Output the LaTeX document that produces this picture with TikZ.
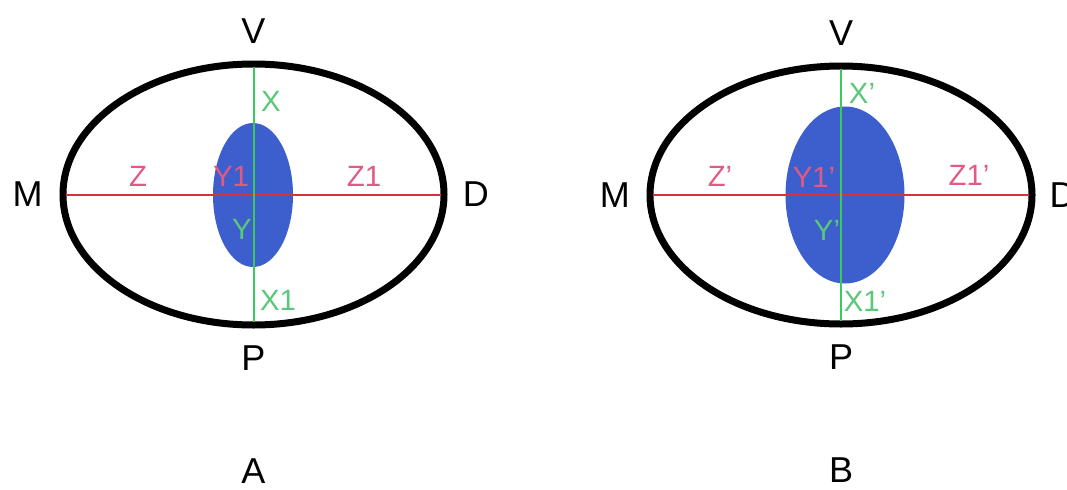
\documentclass[tikz,border=0pt]{standalone}
\usepackage{fontspec}
\setmainfont{Liberation Sans}
\usetikzlibrary{positioning,shapes.geometric}

\definecolor{lensblue}{RGB}{60,95,205}
\definecolor{axisred}{RGB}{205,55,60}
\definecolor{axisgreen}{RGB}{60,200,90}
\definecolor{textpink}{RGB}{225,90,130}
\definecolor{textgreen}{RGB}{90,200,120}

\begin{document}
\begin{tikzpicture}[
		x=0.75pt, y=-0.75pt,
		outer_eye/.style={ellipse, draw=black, line width=5.25pt, inner sep=0pt, outer sep=0pt},
		lens/.style={ellipse, fill=lensblue, inner sep=0pt, outer sep=0pt},
		axis_h/.style={draw=axisred, line width=1.5pt, shorten <=2.6pt, shorten >=2.6pt},
		axis_v/.style={draw=axisgreen, line width=1.5pt, shorten <=2.6pt, shorten >=2.6pt},
		big_label/.style={font=\fontsize{27}{30}\selectfont, inner sep=0pt},
		red_label/.style={font=\fontsize{22}{24}\selectfont, text=textpink, inner sep=0pt},
		green_label/.style={font=\fontsize{22}{24}\selectfont, text=textgreen, inner sep=0pt}
		]
		\useasboundingbox (0,0) rectangle (1067,489);
		
		% --- PANEL A ---
		\node[outer_eye, minimum width=285.75pt, minimum height=195.75pt] (eye_A) at (253.5,194.5) {};
		\node[lens, minimum width=60pt, minimum height=108pt] (lens_A) at (253,195) {};
		
		\draw[axis_h] (eye_A.west) -- (eye_A.east);
		\draw[axis_v] (eye_A.north) -- (eye_A.south);
		
		\node[big_label, above=15pt of eye_A.north] (V_A) {V};
		\node[big_label, below=15pt of eye_A.south] (P_A) {P};
		\node[big_label, left=15pt of eye_A.west] (M_A) {M};
		\node[big_label, right=14pt of eye_A.east] (D_A) {D};
		\node[big_label, below=66pt of P_A] (name_A) {A};
		
		\node[red_label] (Z_A) at (138,176) {Z};
		\node[red_label] (Z1_A) at (364,176) {Z1};
		\node[red_label] (Y1_A) at (231,176) {Y1};
		\node[green_label] (X_A) at (271,101) {X};
		\node[green_label] (Y_A) at (242,229) {Y};
		\node[green_label] (X1_A) at (278,300) {X1};
		
		% --- PANEL B ---
		\node[outer_eye, minimum width=286.5pt, minimum height=193.5pt] (eye_B) at (841,195) {};
		\node[lens, minimum width=89.25pt, minimum height=132.75pt] (lens_B) at (845,195) {};
		
		\draw[axis_h] (eye_B.west) -- (eye_B.east);
		\draw[axis_v] (eye_B.north) -- (eye_B.south);
		
		\node[big_label, above=15pt of eye_B.north] (V_B) {V};
		\node[big_label, below=15pt of eye_B.south] (P_B) {P};
		\node[big_label, left=15pt of eye_B.west] (M_B) {M};
		\node[big_label, right=13pt of eye_B.east] (D_B) {D};
		\node[big_label, below=66pt of P_B] (name_B) {B};
		
		\node[red_label] (Z_B) at (720,176) {Z'};
		\node[red_label] (Z1_B) at (969,175) {Z1'};
		\node[red_label] (Y1_B) at (814,177) {Y1'};
		\node[green_label] (X_B) at (862,93) {X'};
		\node[green_label] (Y_B) at (827,230) {Y'};
		\node[green_label] (X1_B) at (865,301) {X1'};
		
	\end{tikzpicture}
\end{document}
